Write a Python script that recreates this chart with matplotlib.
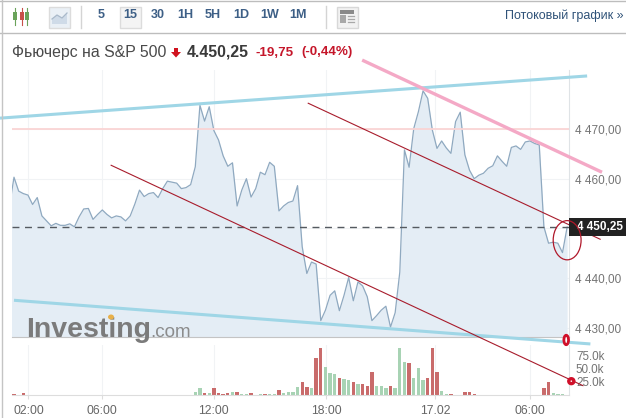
import matplotlib
matplotlib.use('Agg')
import matplotlib.pyplot as plt
from matplotlib.patches import Ellipse, Rectangle, Polygon
import numpy as np

plt.rcParams['font.family'] = ['Liberation Sans', 'DejaVu Sans']

# 15 min closes, first one is cut by the left edge of the plot
prices = [4454.3, 4460.3, 4457.5, 4457.0, 4456.7, 4454.8, 4456.2, 4452.5, 4451.5, 4450.5,
          4451.0, 4450.6, 4450.6, 4450.9, 4450.3, 4452.3, 4453.9, 4454.0, 4451.8, 4452.8,
          4453.7, 4452.8, 4452.1, 4452.5, 4452.3, 4451.5, 4452.5, 4454.9, 4457.7, 4456.4,
          4457.0, 4457.2, 4456.2, 4458.0, 4459.5, 4459.3, 4459.1, 4458.0, 4458.2, 4458.8,
          4462.4, 4474.8, 4471.6, 4474.5, 4469.7, 4467.8, 4464.6, 4462.5, 4463.2, 4454.5,
          4457.7, 4460.0, 4456.3, 4458.0, 4461.3, 4460.8, 4463.3, 4462.5, 4453.5, 4454.5,
          4455.2, 4455.5, 4458.6, 4446.3, 4440.9, 4443.2, 4442.8, 4431.4, 4433.5, 4436.5,
          4437.4, 4433.4, 4436.5, 4440.1, 4435.4, 4439.2, 4438.4, 4436.2, 4431.4, 4432.4,
          4433.5, 4434.3, 4430.1, 4433.0, 4441.2, 4465.8, 4462.3, 4470.1, 4473.5, 4477.7,
          4476.2, 4469.8, 4466.1, 4467.6, 4466.2, 4465.1, 4471.5, 4473.4, 4464.8, 4461.7,
          4460.0, 4460.7, 4461.1, 4462.1, 4462.6, 4464.6, 4463.5, 4462.5, 4466.3, 4466.6,
          4465.9, 4467.4, 4467.6, 4467.1, 4466.8, 4450.3, 4447.0, 4447.2, 4447.0, 4445.1,
          4450.25]
last_price = 4450.25
ref_price = 4470.0

# volume in thousands, (bar index, value)
vol_red = {0: 1.2, 2: 3.1, 41: 3.1, 43: 12.5, 44: 3.1, 45: 2.5, 46: 3.1, 48: 5.0, 51: 3.1,
           54: 1.9, 57: 8.8, 62: 25.0, 63: 14.4, 65: 68.8, 66: 87.5, 70: 31.3, 73: 23.8,
           75: 20.0, 76: 16.3, 77: 42.5, 81: 16.3, 85: 60.6, 89: 32.5, 90: 87.5, 91: 43.8,
           94: 1.9, 97: 5.0, 98: 6.3, 99: 2.5, 114: 13.8, 115: 23.8}
vol_green = {39: 5.0, 40: 12.5, 42: 3.1, 47: 5.0, 49: 2.5, 50: 1.2, 53: 1.9, 55: 1.9, 56: 1.2,
             58: 3.1, 59: 5.0, 60: 5.0, 61: 14.4, 64: 13.8, 67: 51.9, 68: 40.6, 69: 38.8,
             71: 29.4, 72: 28.1, 74: 20.0, 78: 17.5, 79: 16.3, 80: 13.8, 82: 13.8, 83: 88.8,
             84: 62.5, 86: 31.3, 87: 51.3, 88: 28.8, 92: 7.5, 93: 1.2, 116: 3.8, 117: 2.5,
             118: 1.2}
vol_small = [1, 3, 4, 5, 6, 7, 8, 9, 10, 11, 12, 14, 15, 18, 21, 25, 28, 30, 32, 33, 34, 35,
             36, 37, 38, 52, 100, 101, 103, 104, 105, 106, 108, 110]

time_ticks = [3.1, 19.0, 43.0, 67.2, 90.6, 111.0]
time_labels = ['02:00', '06:00', '12:00', '18:00', '17.02', '06:00']
price_ticks = [4430, 4440, 4450, 4460, 4470]
price_labels = ['4 430,00', '4 440,00', '', '4 460,00', '4 470,00']
vol_ticks = [25, 50, 75]
vol_labels = ['25.0k', '50.0k', '75.0k']

# hand drawn lines, (index, price) ends
cyan_top = ([-3.0, 123.3], [4472.2, 4480.7])
cyan_bottom = ([0.0, 124.0], [4435.5, 4426.7])
pink_line = ([74.9, 126.5], [4483.9, 4461.3])
red_low = ([20.9, 122.4], [4462.7, 4418.3])
red_high = ([63.3, 126.1], [4475.2, 4447.8])

periods = ['5', '15', '30', '1H', '5H', '1D', '1W', '1M']
period_x = [101, 130, 158, 185, 213, 241, 270, 298]

W, H = 626, 418
fig = plt.figure(figsize=(W / 100, H / 100), dpi=100)


def box(left, top, right, bottom):
    return [left / W, 1 - bottom / H, (right - left) / W, (bottom - top) / H]


vol = fig.add_axes(box(12, 345, 569, 395), zorder=1)
ax = fig.add_axes(box(12, 70, 569, 337), zorder=2)
ui = fig.add_axes([0, 0, 1, 1], zorder=3)
ui.set_xlim(0, W)
ui.set_ylim(H, 0)
ui.axis('off')
ui.patch.set_alpha(0)

xlim = (-0.43, 119.4)
x = np.arange(len(prices)) - 1

# price panel
ax.patch.set_alpha(0)
ax.set_xlim(xlim)
ax.set_ylim(4428.1, 4481.9)
ax.fill_between(x, prices, 4428.1, color='#e4edf5', lw=0, zorder=1)
ax.plot(x, prices, color='#8fa9c0', lw=0.9, zorder=2)
ax.axhline(ref_price, color='#fad4d4', lw=1.3, zorder=3)
ax.axhline(last_price, color='#555a60', lw=1, dashes=(5, 4), zorder=3)
ax.set_xticks(time_ticks)
ax.set_xticklabels([])
ax.set_yticks(price_ticks)
ax.set_yticklabels(price_labels, color='#747474', fontsize=8.5)
ax.yaxis.tick_right()
ax.tick_params(axis='y', length=0, pad=4.5)
ax.tick_params(axis='x', length=0)
ax.grid(color='#f1f3f5', lw=0.8, zorder=0)
ax.set_axisbelow(True)
for s in ['top', 'left']:
    ax.spines[s].set_visible(False)
ax.spines['right'].set_color('#dfe3e6')
ax.spines['bottom'].set_color('#c4c4c4')

# logo goes over the fill but under the drawn lines
ax.text(26, 337, 'Investing', transform=ui.transData, fontsize=20.5, fontweight='bold',
        color='#7b7b7b', zorder=4)
ax.text(150, 337, '.com', transform=ui.transData, fontsize=13.6, color='#8c8c8c', zorder=4)
ax.add_patch(Ellipse((111, 317), 6, 5, transform=ui.transData, color='#e8b04a', lw=0, zorder=4,
                     clip_on=False))

# drawn lines
for xs, ys in [cyan_top, cyan_bottom]:
    ax.plot(xs, ys, color='#9fd6e6', lw=2.2, clip_on=False, zorder=5, solid_capstyle='butt')
ax.plot(*pink_line, color='#f4a9c6', lw=2.4, clip_on=False, zorder=5, solid_capstyle='butt')
for xs, ys in [red_low, red_high]:
    ax.plot(xs, ys, color='#a81c2c', lw=0.8, clip_on=False, zorder=6)

# current price box
ax.add_patch(Rectangle((1.0, 4448.5), 0.103, 3.5, transform=ax.get_yaxis_transform(),
                       color='#222222', lw=0, clip_on=False, zorder=6))
ax.text(1.014, last_price, '4 450,25', transform=ax.get_yaxis_transform(), color='white',
        fontsize=8.5, fontweight='bold', va='center', ha='left', zorder=7)

ax.add_patch(Ellipse((119.0, 4447.6), 6.0, 7.9, fill=False, ec='#b0182a', lw=0.9,
                     clip_on=False, zorder=8))
ax.add_patch(Ellipse((118.8, 4427.5), 1.0, 1.9, fc='white', ec='#d0102a', lw=2,
                     clip_on=False, zorder=8))
ax.add_patch(Ellipse((119.9, 4419.2), 1.1, 1.0, fc='white', ec='#d0102a', lw=2.4,
                     clip_on=False, zorder=8))

# volume panel
vol.set_xlim(xlim)
vol.set_ylim(0, 94)
vol.bar(list(vol_red), list(vol_red.values()), width=0.72, color='#c96b6b')
vol.bar(list(vol_green), list(vol_green.values()), width=0.72, color='#a8d3b4')
vol.bar(vol_small, [0.9] * len(vol_small), width=0.72, color='#d9d9d9')
vol.set_xticks(time_ticks)
vol.set_xticklabels(time_labels, color='#666666', fontsize=8.8)
vol.set_yticks(vol_ticks)
vol.set_yticklabels(vol_labels, color='#747474', fontsize=8.4)
vol.yaxis.tick_right()
vol.tick_params(axis='y', length=0, pad=5)
vol.tick_params(axis='x', length=3, color='#dddddd', pad=4)
vol.grid(axis='x', color='#f1f3f5', lw=0.8)
vol.set_axisbelow(True)
for s in ['top', 'left']:
    vol.spines[s].set_visible(False)
vol.spines['right'].set_color('#dfe3e6')
vol.spines['bottom'].set_color('#dddddd')

# toolbar
ui.plot([0, W], [1, 1], color='#bdbdbd', lw=1)
ui.plot([0, W], [32.5, 32.5], color='#bdbdbd', lw=1)
ui.plot([1.5, 1.5], [0, H], color='#c4c4c4', lw=1)
ui.plot([80.5, 80.5], [6, 28], color='#d4d4d4', lw=1)
ui.plot([325.5, 325.5], [6, 28], color='#d4d4d4', lw=1)

for cx, col in [(15, '#6aa35a'), (21.5, '#c8504a'), (27, '#6aa35a')]:
    ui.plot([cx, cx], [8, 25], color=col, lw=0.8)
    ui.add_patch(Rectangle((cx - 2, 12), 4, 8, color=col, lw=0))

ui.add_patch(Rectangle((48.5, 6.5), 21, 21, fc='#eaf0f6', ec='#dcdcdc', lw=1))
ui.add_patch(Polygon([(52, 24), (52, 19), (57, 15), (62, 18), (67, 13), (67, 24)], fc='#cfdbe8', lw=0))
ui.plot([52, 57, 62, 67], [19, 15, 18, 13], color='#a9b9ca', lw=0.9)

ui.add_patch(Rectangle((119.5, 6.5), 21, 21, fc='#f4f4f4', ec='#dcdcdc', lw=1))
for px, label in zip(period_x, periods):
    ui.text(px, 15.5, label, ha='center', va='center', fontsize=9, color='#3d5f86',
            fontweight='bold')

ui.add_patch(Rectangle((336.5, 6.5), 21, 21, fc='#f2f2f2', ec='#d8d8d8', lw=1))
ui.add_patch(Rectangle((340, 10), 14, 3.5, color='#8a8a8a', lw=0))
ui.add_patch(Rectangle((340, 15), 6, 8, color='#a8a8a8', lw=0))
for yy in [16, 19, 22]:
    ui.plot([348, 354], [yy, yy], color='#a8a8a8', lw=0.9)

ui.text(505, 15.5, 'Потоковый график »', va='center', fontsize=9, color='#2f5278')

# title row
ui.text(12, 52, 'Фьючерс на S&P 500', va='center', fontsize=11.4, color='#4a4a4a')
ui.add_patch(Polygon([(174, 48), (178, 48), (178, 52), (181, 52), (176, 57.5), (171, 52), (174, 52)],
                     color='#d0121e', lw=0))
ui.text(187, 52, '4.450,25', va='center', fontsize=11.4, fontweight='bold', color='#3a3a3a')
ui.text(255, 52.5, '-19,75', va='center', fontsize=9.6, fontweight='bold', color='#c5162a')
ui.text(301, 52.5, '(-0,44%)', va='center', fontsize=9.6, fontweight='bold', color='#c5162a')

fig.savefig('out.png', dpi=100)
